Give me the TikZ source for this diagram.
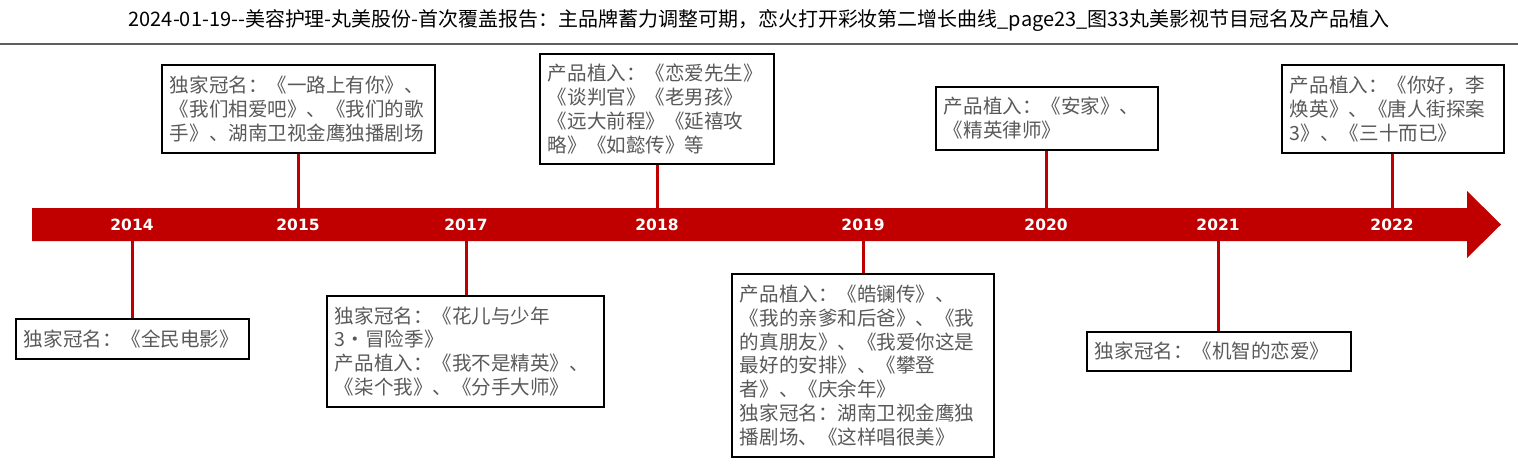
\documentclass[tikz,border=0pt]{standalone}
\usepackage{fontspec}
\newfontfamily\cjk{Noto Sans CJK SC}
\newfontfamily\yearfont{DejaVu Sans}

\definecolor{bandred}{HTML}{C00000}
\definecolor{boxtext}{HTML}{595959}
\definecolor{ruleline}{HTML}{5F5F5F}

\newcommand*{\bandleft}{32}
\newcommand*{\bandtop}{208}
\newcommand*{\bandbot}{241}
\newcommand*{\headx}{1467}
\newcommand*{\tipx}{1501}

\begin{document}
\begin{tikzpicture}
[
	infobox/.style={draw,line width=0.05cm,text=boxtext,align=left,inner xsep=0.2cm,inner ysep=0.05cm,font=\cjk\fontsize{13.9pt}{17pt}\selectfont},
	yearlbl/.style={text=white,inner sep=0pt,minimum height=0.825cm,font=\yearfont\bfseries\fontsize{11pt}{13pt}\selectfont},
	conn/.style={bandred,line width=0.075cm},
	x=0.025cm,y=-0.025cm
]

	\useasboundingbox (0,0) rectangle (1518,463);

	% title
	\node[font=\cjk\fontsize{14.2pt}{16pt}\selectfont] (title) at (759,20) {2024-01-19--美容护理-丸美股份-首次覆盖报告：主品牌蓄力调整可期，恋火打开彩妆第二增长曲线\_page23\_图33丸美影视节目冠名及产品植入};
	\draw[ruleline,line width=0.06cm] (0,44) -- (1518,44);

	% band
	\fill[bandred] (\bandleft,\bandtop) -- (\headx,\bandtop) -- (\headx,191) -- (\tipx,224.5) -- (\headx,258) -- (\headx,\bandbot) -- (\bandleft,\bandbot) -- cycle;

	% years
	\node[yearlbl] (y2014) at (132,224.5) {2014};
	\node[yearlbl] (y2015) at (298,224.5) {2015};
	\node[yearlbl] (y2017) at (466,224.5) {2017};
	\node[yearlbl] (y2018) at (657,224.5) {2018};
	\node[yearlbl] (y2019) at (863,224.5) {2019};
	\node[yearlbl] (y2020) at (1046,224.5) {2020};
	\node[yearlbl] (y2021) at (1218,224.5) {2021};
	\node[yearlbl] (y2022) at (1392,224.5) {2022};

	% boxes
	\node[infobox,text width=5.425cm,minimum height=1cm] (b2014) at (132.5,339) {独家冠名：《全民电影》};
	\node[infobox,text width=6.425cm,minimum height=2.2cm] (b2015) at (298.5,109) {独家冠名：《一路上有你》、\\《我们相爱吧》、《我们的歌\\手》、湖南卫视金鹰独播剧场};
	\node[infobox,text width=6.525cm,minimum height=2.775cm] (b2017) at (465.5,351.5) {独家冠名：《花儿与少年\\3·冒险季》\\产品植入：《我不是精英》、\\《柒个我》、《分手大师》};
	\node[infobox,text width=5.45cm,minimum height=2.75cm] (b2018) at (657,109) {产品植入：《恋爱先生》\\《谈判官》《老男孩》\\《远大前程》《延禧攻\\略》《如懿传》等};
	\node[infobox,text width=6.15cm,minimum height=4.575cm] (b2019) at (863,365.5) {产品植入：《皓镧传》、\\《我的亲爹和后爸》、《我\\的真朋友》、《我爱你这是\\最好的安排》、《攀登\\者》、《庆余年》\\独家冠名：湖南卫视金鹰独\\播剧场、《这样唱很美》};
	\node[infobox,text width=5.15cm,minimum height=1.575cm] (b2020) at (1047,118.5) {产品植入：《安家》、\\《精英律师》};
	\node[infobox,text width=6.2cm,minimum height=0.975cm] (b2021) at (1219,351.5) {独家冠名：《机智的恋爱》};
	\node[infobox,text width=5.15cm,minimum height=2.2cm] (b2022) at (1393,109) {产品植入：《你好，李\\焕英》、《唐人街探案\\3》、《三十而已》};

	% connectors
	\draw[conn] (y2014.south) -- (y2014.south |- b2014.north);
	\draw[conn] (y2015.north) -- (y2015.north |- b2015.south);
	\draw[conn] (y2017.south) -- (y2017.south |- b2017.north);
	\draw[conn] (y2018.north) -- (y2018.north |- b2018.south);
	\draw[conn] (y2019.south) -- (y2019.south |- b2019.north);
	\draw[conn] (y2020.north) -- (y2020.north |- b2020.south);
	\draw[conn] (y2021.south) -- (y2021.south |- b2021.north);
	\draw[conn] (y2022.north) -- (y2022.north |- b2022.south);

\end{tikzpicture}
\end{document}
